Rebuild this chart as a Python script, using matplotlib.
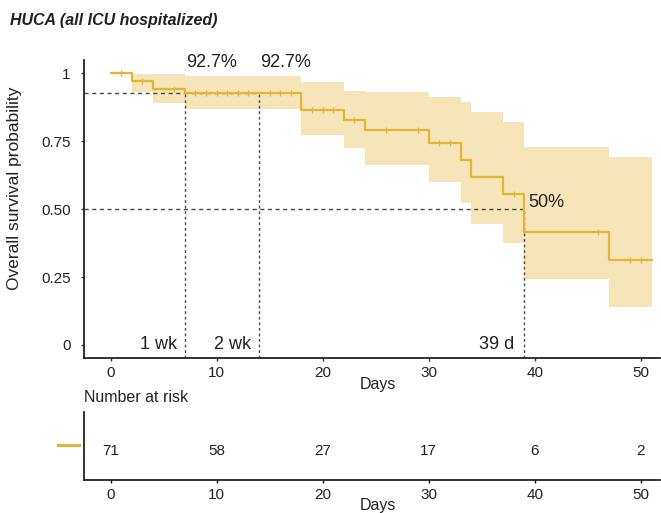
import numpy as np
import matplotlib
matplotlib.use("Agg")
import matplotlib.pyplot as plt

plt.rcParams['font.family'] = ['Liberation Sans', 'DejaVu Sans']

# ----------------------------------------
# Data
# ----------------------------------------
step_times = [0, 2, 4, 7, 18, 22, 24, 30, 33, 34, 37, 39, 47]
surv = [1.0, 0.972, 0.944, 0.927, 0.866, 0.828, 0.790, 0.742, 0.682, 0.620, 0.556, 0.417, 0.313]
upper = [1.0, 0.998, 0.996, 0.990, 0.968, 0.936, 0.931, 0.913, 0.894, 0.858, 0.821, 0.728, 0.692]
lower = [1.0, 0.930, 0.890, 0.868, 0.772, 0.724, 0.662, 0.600, 0.522, 0.445, 0.376, 0.243, 0.141]
end_time = 51
censor_times = [1, 3, 6, 8, 9, 10, 11, 12, 13, 15, 16, 17, 19, 20, 21, 23, 26, 29,
                31, 32, 38, 46, 49, 50]

risk_days = [0, 10, 20, 30, 40, 50]
n_at_risk = [71, 58, 27, 17, 6, 2]

week_marks = [7, 14]
week_labels = ["1 wk", "2 wk"]
week_surv = 0.927
median_day = 39

line_col = '#E4B534'
txt_col = '#222222'
ref_col = '#4a4a4a'

XLIM = (-2.5, 51.8)
YLIM = (-0.048, 1.049)

fig = plt.figure(figsize=(6.61, 5.13), dpi=100)
ax = fig.add_axes([84 / 661, 1 - 358 / 513, 576 / 661, 298 / 513])
ax2 = fig.add_axes([84 / 661, 1 - 480 / 513, 576 / 661, 68 / 513])

# ----------------------------------------
# Survival curve
# ----------------------------------------
t = np.array(step_times + [end_time])
s = np.array(surv + [surv[-1]])
up = np.array(upper + [upper[-1]])
lo = np.array(lower + [lower[-1]])

ax.fill_between(t, lo, up, step='post', color=line_col, alpha=0.34, lw=0, zorder=1)

# reference lines
ax.plot([XLIM[0], week_marks[-1]], [week_surv, week_surv], color=ref_col, lw=1,
        ls=(0, (3, 2.5)), zorder=2)
for d in week_marks:
    ax.plot([d, d], [YLIM[0], week_surv], color=ref_col, lw=1, ls=(0, (2, 2)), zorder=2)
ax.plot([XLIM[0], median_day], [0.5, 0.5], color=ref_col, lw=1, ls=(0, (3, 2.5)), zorder=2)
ax.plot([median_day, median_day], [YLIM[0], 0.5], color=ref_col, lw=1, ls=(0, (2, 2)), zorder=2)

ax.step(t, s, where='post', color=line_col, lw=1.6, zorder=3)

cidx = np.searchsorted(step_times, censor_times, side='right') - 1
ax.plot(censor_times, np.array(surv)[cidx], ls='none', marker='|', ms=5, mew=0.9,
        color=line_col, zorder=4)

# annotations
for d in week_marks:
    ax.text(d + 0.1, 1.04, "92.7%", ha='left', va='center', fontsize=13, color=txt_col)
for d, lab in zip(week_marks, week_labels):
    ax.text(d - 0.7, 0.0, lab, ha='right', va='center', fontsize=13, color=txt_col)
ax.text(median_day - 0.9, 0.0, "39 d", ha='right', va='center', fontsize=13, color=txt_col)
ax.text(median_day + 0.35, 0.526, "50%", ha='left', va='center', fontsize=13, color=txt_col)

ax.set_xlim(*XLIM)
ax.set_ylim(*YLIM)
ax.set_xticks(risk_days)
ax.set_yticks([0, 0.25, 0.5, 0.75, 1])
ax.set_yticklabels(["0", "0.25", "0.50", "0.75", "1"])
ax.tick_params(axis='both', labelsize=11, length=2.5, width=1, colors='#333333',
               labelcolor=txt_col)
ax.tick_params(axis='y', pad=7)
ax.tick_params(axis='x', pad=3)
ax.set_ylabel("Overall survival probability", fontsize=12.5, color=txt_col)
ax.yaxis.set_label_coords(-0.108, 0.57)
ax.text(0.51, -0.09, "Days", transform=ax.transAxes, ha='center', va='center',
        fontsize=11.5, color=txt_col)
for side in ['top', 'right']:
    ax.spines[side].set_visible(False)
for side in ['left', 'bottom']:
    ax.spines[side].set_linewidth(1.3)
    ax.spines[side].set_color('#222222')

# ----------------------------------------
# Risk table
# ----------------------------------------
for d, n in zip(risk_days, n_at_risk):
    ax2.text(d, 0.43, str(n), ha='center', va='center', fontsize=11, color=txt_col)
ax2.plot([-0.045, -0.009], [0.51, 0.51], transform=ax2.transAxes, color=line_col,
         lw=2.2, clip_on=False)
ax2.text(0.0, 1.21, "Number at risk", transform=ax2.transAxes, ha='left', va='center',
         fontsize=11.5, color=txt_col)
ax2.text(0.51, -0.37, "Days", transform=ax2.transAxes, ha='center', va='center',
         fontsize=11.5, color=txt_col)
ax2.set_xlim(*XLIM)
ax2.set_ylim(0, 1)
ax2.set_xticks(risk_days)
ax2.set_yticks([])
ax2.tick_params(axis='x', labelsize=11, length=2.5, width=1, pad=3, labelcolor=txt_col)
for side in ['top', 'right']:
    ax2.spines[side].set_visible(False)
for side in ['left', 'bottom']:
    ax2.spines[side].set_linewidth(1.3)
    ax2.spines[side].set_color('#222222')

fig.text(10 / 661, 1 - 20 / 513, "HUCA (all ICU hospitalized)", ha='left', va='center',
         fontsize=11.5, fontweight='bold', fontstyle='italic', color=txt_col)

fig.savefig("out.png", dpi=100)
